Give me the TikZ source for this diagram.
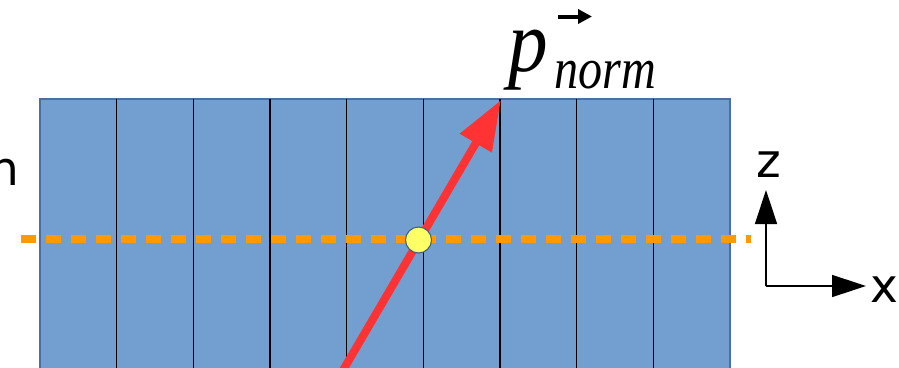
\documentclass[tikz,border=0pt]{standalone}
\usepackage{fontspec}
\usetikzlibrary{arrows.meta}
\newfontfamily\dvsans{DejaVu Sans}
\newfontfamily\lserif{Liberation Serif}
\definecolor{slabfill}{HTML}{729FCF}
\definecolor{slabedge}{HTML}{4A6FA5}
\definecolor{dashorange}{HTML}{FF9900}
\definecolor{vecred}{HTML}{FF3333}
\definecolor{dotyellow}{HTML}{FFFF66}
\definecolor{dotedge}{HTML}{3D5A80}
\tikzset{
  slab/.style={fill=slabfill, draw=slabedge, line width=1.5pt},
  divider/.style={draw=black, line width=1.2pt},
  midline/.style={draw=dashorange, line width=7.5pt, dash pattern=on 15pt off 10pt},
  vecarrow/.style={draw=vecred, line width=8pt, -{Triangle[length=50pt,width=35pt]}},
  axisarrow/.style={draw=black, line width=1.5pt, -{Triangle[length=34pt,width=22pt]}},
  sanslabel/.style={inner sep=0pt, font=\dvsans\fontsize{47}{47}\selectfont},
  dot/.style={circle, fill=dotyellow, draw=dotedge, line width=1pt, minimum size=26pt, inner sep=0pt}
}
\begin{document}
\begin{tikzpicture}[x=1pt,y=-1pt]
\useasboundingbox (0,0) rectangle (899,367);
\clip (0,0) rectangle (899,367);
% slab
\coordinate (slabnw) at (40,99);
\coordinate (slabse) at (730,380);
\path[slab] (slabnw) rectangle (slabse);
\foreach \i in {1,...,8}{
  \coordinate (dtop\i) at ({40+\i*690/9},99);
  \coordinate (dbot\i) at ({40+\i*690/9},380);
  \draw[divider] (dtop\i) -- (dbot\i);
}
% orange dashed midline
\coordinate (mlA) at (21,239);
\coordinate (mlB) at (751,239);
\draw[midline] (mlA) -- (mlB);
% red vector
\coordinate (vstart) at (338.5,378);
\coordinate (vtip) at (501,100);
\draw[vecarrow] (vstart) -- (vtip);
% yellow point
\node[dot] (pt) at (418.5,240) {};
% label p_norm
\node[inner sep=0pt, anchor=base west] (plabel) at (508,71)
  {\scalebox{0.9}[1]{\lserif\itshape\fontsize{88}{88}\selectfont p}};
\node[inner sep=0pt, anchor=base west] (nlabel) at (554,88)
  {\scalebox{0.83}[1]{\lserif\itshape\fontsize{58}{58}\selectfont norm}};
\coordinate (accA) at (558,16.5);
\coordinate (accB) at (592,16.5);
\draw[black, line width=4pt, -{Triangle[length=14pt,width=14pt]}] (accA) -- (accB);
% left partial label
\node[sanslabel, anchor=base west] (leftlabel) at (-10.8,185) {n};
% axes
\coordinate (ax0) at (766,286);
\coordinate (axz) at (766,190);
\coordinate (axx) at (866,286);
\draw[axisarrow] (ax0) -- (axz);
\draw[axisarrow] (ax0) -- (axx);
\node[sanslabel, anchor=base] (zlabel) at (768.5,177) {z};
\node[sanslabel, anchor=base] (xlabel) at (884,302) {x};
\end{tikzpicture}
\end{document}
